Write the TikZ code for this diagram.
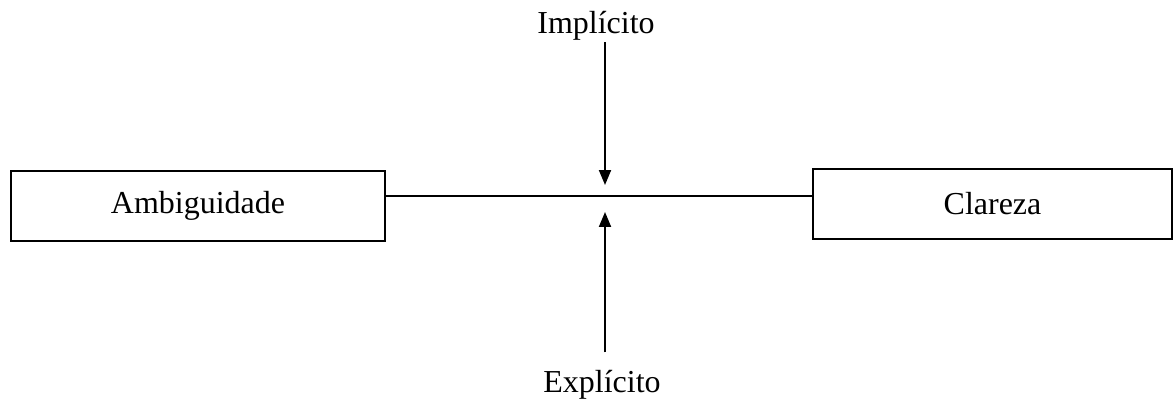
\documentclass[tikz,border=0pt]{standalone}
\usepackage{fontspec}
\setmainfont{Liberation Serif}
\usetikzlibrary{arrows.meta,calc,positioning}

\begin{document}
\begin{tikzpicture}[x=0.02cm, y=-0.02cm,
  box/.style={draw, line width=1.1pt, minimum width=#1, minimum height=1.4cm, font=\fontsize{18.2}{22}\selectfont},
  lbl/.style={font=\fontsize{18.2}{22}\selectfont, inner sep=0pt, anchor=base},
  tip/.style={-{Triangle[length=0.3cm, width=0.24cm]}, line width=1.1pt}]
  \useasboundingbox (0,0) rectangle (1175,405);
  % the two ends of the scale
  \node[box=7.48cm] (amb) at (198,206) {Ambiguidade};
  \node[box=7.18cm] (cla) at (992.5,204) {Clareza};
  \coordinate (mid) at (605,196);
  \draw[line width=1.1pt] (amb.east |- mid) -- (cla.west |- mid);
  % pressure from above and below
  \node[lbl] (imp) at (596,34) {Implícito};
  \node[lbl] (exp) at (602,392) {Explícito};
  \draw[tip] ([yshift=-0.02cm]imp.south -| mid) -- ([yshift=0.22cm]mid);
  \draw[tip] ([yshift=0.34cm]exp.north -| mid) -- ([yshift=-0.32cm]mid);
\end{tikzpicture}
\end{document}
